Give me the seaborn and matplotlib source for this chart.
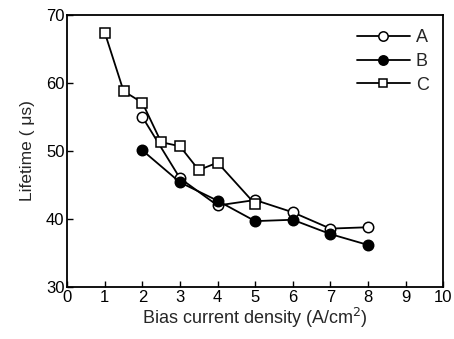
import matplotlib
matplotlib.use("Agg")
import matplotlib.pyplot as plt
import seaborn as sns
import pandas as pd

x_A = [2, 3, 4, 5, 6, 7, 8]
y_A = [55.0, 46.0, 42.0, 42.8, 41.0, 38.6, 38.8]
x_B = [2, 3, 4, 5, 6, 7, 8]
y_B = [50.1, 45.4, 42.7, 39.7, 39.9, 37.8, 36.2]
x_C = [1, 1.5, 2, 2.5, 3, 3.5, 4, 5]
y_C = [67.4, 58.8, 57.1, 51.3, 50.7, 47.2, 48.3, 42.2]
labels = ["A", "B", "C"]
x_ticks = [0, 1, 2, 3, 4, 5, 6, 7, 8, 9, 10]
y_ticks = [30, 40, 50, 60, 70]

sns.set_style("ticks")
plt.rcParams["font.family"] = ["Liberation Sans", "DejaVu Sans"]

fig = plt.figure(figsize=(4.54, 3.39), dpi=100)
ax = fig.add_axes([0.148, 0.153, 0.828, 0.803])

series = [
    (x_A, y_A, "o", "white"),
    (x_B, y_B, "o", "black"),
    (x_C, y_C, "s", "white"),
]
for (xs, ys, mk, fc), lab in zip(series, labels):
    df = pd.DataFrame({"x": xs, "y": ys})
    sns.lineplot(data=df, x="x", y="y", ax=ax, color="black", lw=1.3,
                 marker=mk, markersize=7.5 if mk == "o" else 7,
                 markerfacecolor=fc, markeredgecolor="black",
                 markeredgewidth=1.1, label=lab)

ax.set_xlim(0, 10)
ax.set_ylim(30, 70)
ax.set_xticks(x_ticks)
ax.set_yticks(y_ticks)
ax.tick_params(direction="in", length=4, width=1, labelsize=12, pad=2,
               colors="black")
for s in ax.spines.values():
    s.set_linewidth(1.3)
    s.set_color("black")
ax.set_xlabel("Bias current density (A/cm$^2$)", fontsize=13, labelpad=1)
ax.set_ylabel("Lifetime ( \u03bcs)", fontsize=12.5, labelpad=8)

leg = ax.legend(loc="upper right", bbox_to_anchor=(1.005, 1.008), frameon=False,
                prop={"size": 13}, handlelength=2.9, markerscale=0.9,
                handletextpad=0.35, labelspacing=0.38)

fig.savefig("out.png", dpi=100)
